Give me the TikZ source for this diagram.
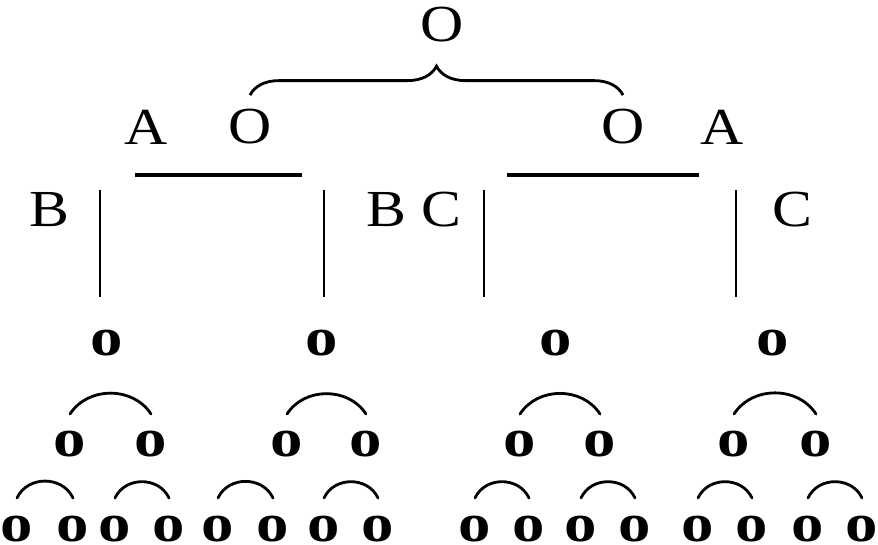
\documentclass[tikz,border=0pt]{standalone}
\usepackage{fontspec}
\setmainfont[FakeStretch=1.15]{Liberation Serif}
\newfontfamily\ofont[FakeStretch=1.2]{Liberation Serif}
\usetikzlibrary{decorations.pathreplacing}
\tikzset{
  letter/.style={inner sep=0pt, font=\fontsize{26}{26}\selectfont},
  small/.style={inner sep=0pt, font=\ofont\fontsize{27}{27}\selectfont\bfseries},
  bar/.style={line width=1.4pt},
  hump/.style={line width=1.4pt, line cap=round},
}
\begin{document}
\begin{tikzpicture}[x=0.5pt, y=0.5pt]
  \useasboundingbox (0,0) rectangle (878,545);
  % letters
  \node[letter] (top) at (442,520) {O};
  \node[letter] (aL) at (146,418) {A};
  \node[letter] (oL) at (250,418) {O};
  \node[letter] (oR) at (623,418) {O};
  \node[letter] (aR) at (722,418) {A};
  \node[letter] (bL) at (49,335) {B};
  \node[letter] (bM) at (386,335) {B};
  \node[letter] (cM) at (441,335) {C};
  \node[letter] (cR) at (792,335) {C};
  % brace
  \draw[bar, decorate, decoration={brace, amplitude=14.5pt}]
    ([yshift=7pt]oL.north) -- ([yshift=7pt]oR.north);
  % lines
  \draw[bar, line width=1.7pt] (135,370) -- (302,370);
  \draw[bar, line width=1.7pt] (507,370) -- (699,370);
  \foreach \x in {100,324,484,736}
    \draw[bar] (\x,355) -- (\x,248);
  % nodes
  \foreach \x [count=\i] in {107,322,556,773}
    \node[small] (p\i) at (\x,202) {o};
  \foreach \x [count=\i] in {70,151,287,366,520,600,734,816}
    \node[small] (q\i) at (\x,101) {o};
  \foreach \x [count=\i] in {17,73,115,169,218,273,324,378,475,529,581,635,698,752,808,862}
    \node[small] (r\i) at (\x,16) {o};
  % humps
  \foreach \i [evaluate=\i as \j using int(\i+1)] in {1,3,5,7}
    \draw[hump] ([yshift=15pt]q\i.center) to[bend left=57, looseness=1.05] ([yshift=15pt]q\j.center);
  \foreach \i [evaluate=\i as \j using int(\i+1)] in {1,3,...,15}
    \draw[hump] ([yshift=15.5pt]r\i.center) to[bend left=65, looseness=1.14] ([yshift=15.5pt]r\j.center);
\end{tikzpicture}
\end{document}
